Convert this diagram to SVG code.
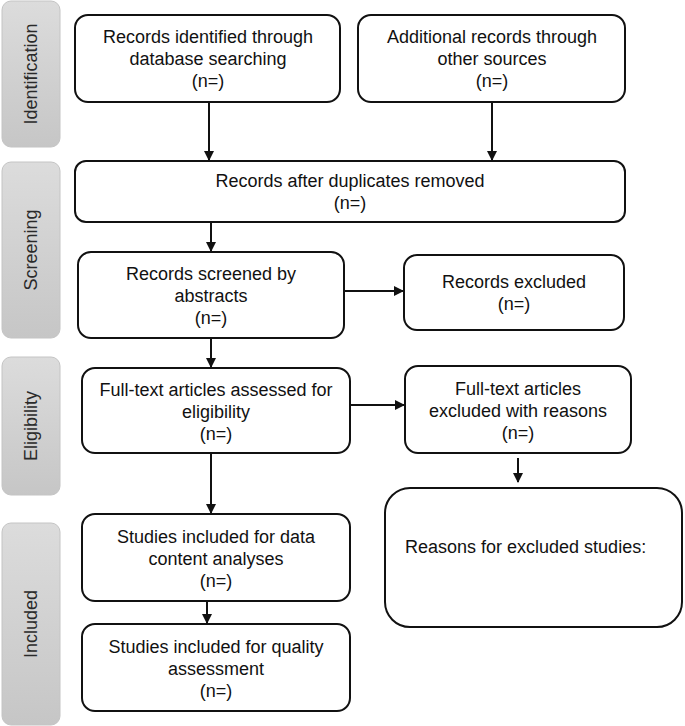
<svg xmlns="http://www.w3.org/2000/svg" width="685" height="726" viewBox="0 0 685 726">
<style>
.bar{fill:url(#g);stroke:#c4c4c4;stroke-width:1}
.bl{font-family:"Liberation Sans",Arial,sans-serif;font-size:18px;fill:#2a2a2a;text-anchor:middle}
.box{fill:#fff;stroke:#111;stroke-width:2}
.t{font-family:"Liberation Sans",Arial,sans-serif;font-size:18px;fill:#111;text-anchor:middle}
.c{stroke:#111;stroke-width:2;fill:none;marker-end:url(#ah)}
</style>
<defs>
<linearGradient id="g" x1="0" y1="0" x2="0" y2="1">
<stop offset="0" stop-color="#dcdcdc"/>
<stop offset="1" stop-color="#c6c6c6"/>
</linearGradient>
<marker id="ah" markerWidth="10" markerHeight="10" refX="9" refY="5" orient="auto" markerUnits="userSpaceOnUse">
<path d="M0,0 L10,5 L0,10 Z" fill="#111"/>
</marker>
</defs>
<rect width="685" height="726" fill="#fff"/>
<g id="phase-identification">
<rect class="bar" x="2" y="1" width="58" height="146" rx="9"/>
<text class="bl" transform="translate(37,74) rotate(-90)">Identification</text>
</g>
<g id="phase-screening">
<rect class="bar" x="2" y="162" width="58" height="176" rx="9"/>
<text class="bl" transform="translate(37,250) rotate(-90)">Screening</text>
</g>
<g id="phase-eligibility">
<rect class="bar" x="2" y="357" width="58" height="138" rx="9"/>
<text class="bl" transform="translate(37,426) rotate(-90)">Eligibility</text>
</g>
<g id="phase-included">
<rect class="bar" x="2" y="523" width="58" height="202" rx="9"/>
<text class="bl" transform="translate(37,624) rotate(-90)">Included</text>
</g>
<g id="n1">
<rect class="box" x="75" y="15" width="265" height="87" rx="13"/>
<text class="t" x="208" y="43">Records identified through</text>
<text class="t" x="208" y="65">database searching</text>
<text class="t" x="208" y="87">(n=)</text>
</g>
<g id="n2">
<rect class="box" x="358" y="15" width="267" height="87" rx="13"/>
<text class="t" x="492" y="43">Additional records through</text>
<text class="t" x="492" y="65">other sources</text>
<text class="t" x="492" y="87">(n=)</text>
</g>
<g id="n3">
<rect class="box" x="75" y="161" width="550" height="61" rx="11"/>
<text class="t" x="350" y="187">Records after duplicates removed</text>
<text class="t" x="350" y="209">(n=)</text>
</g>
<g id="n4">
<rect class="box" x="78" y="252" width="266" height="86" rx="13"/>
<text class="t" x="211" y="280">Records screened by</text>
<text class="t" x="211" y="302">abstracts</text>
<text class="t" x="211" y="324">(n=)</text>
</g>
<g id="n5">
<rect class="box" x="404" y="255" width="220" height="75" rx="13"/>
<text class="t" x="514" y="288">Records excluded</text>
<text class="t" x="514" y="310">(n=)</text>
</g>
<g id="n6">
<rect class="box" x="82" y="368" width="268" height="85" rx="13"/>
<text class="t" x="216" y="396">Full-text articles assessed for</text>
<text class="t" x="216" y="418">eligibility</text>
<text class="t" x="216" y="440">(n=)</text>
</g>
<g id="n7">
<rect class="box" x="405" y="366" width="226" height="87" rx="13"/>
<text class="t" x="518" y="395">Full-text articles</text>
<text class="t" x="518" y="417">excluded with reasons</text>
<text class="t" x="518" y="439">(n=)</text>
</g>
<g id="n8">
<rect class="box" x="385" y="488" width="297" height="139" rx="25"/>
<text class="t" x="405" y="553" style="text-anchor:start">Reasons for excluded studies:</text>
</g>
<g id="n9">
<rect class="box" x="82" y="514" width="268" height="87" rx="13"/>
<text class="t" x="216" y="543">Studies included for data</text>
<text class="t" x="216" y="565">content analyses</text>
<text class="t" x="216" y="587">(n=)</text>
</g>
<g id="n10">
<rect class="box" x="82" y="624" width="268" height="87" rx="13"/>
<text class="t" x="216" y="653">Studies included for quality</text>
<text class="t" x="216" y="675">assessment</text>
<text class="t" x="216" y="697">(n=)</text>
</g>
<g id="connectors">
<line class="c" x1="209" y1="102" x2="209" y2="160"/>
<line class="c" x1="492" y1="102" x2="492" y2="160"/>
<line class="c" x1="211" y1="222" x2="211" y2="251"/>
<line class="c" x1="344" y1="291" x2="403" y2="291"/>
<line class="c" x1="211" y1="338" x2="211" y2="367"/>
<line class="c" x1="350" y1="405" x2="404" y2="405"/>
<line class="c" x1="518" y1="458" x2="518" y2="482"/>
<line class="c" x1="211" y1="453" x2="211" y2="513"/>
<line class="c" x1="207" y1="601" x2="207" y2="623"/>
</g>
</svg>
